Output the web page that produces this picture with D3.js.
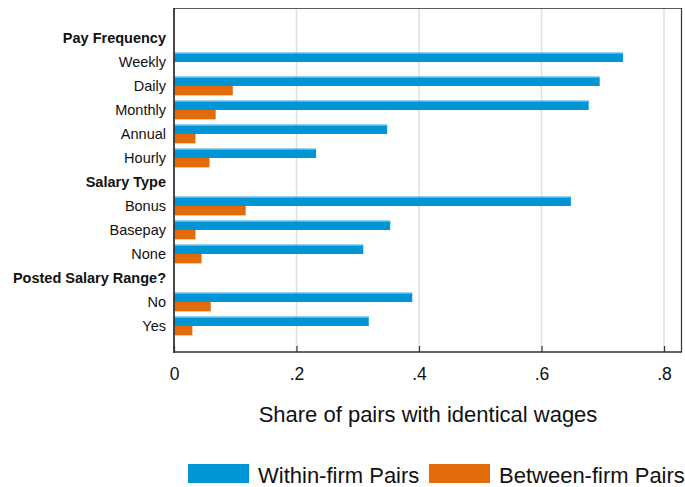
<!DOCTYPE html>
<html>
<head>
<meta charset="utf-8">
<script src="https://cdn.jsdelivr.net/npm/d3@7"></script>
<style>
  body { margin: 0; background: #fff; }
  svg text { font-family: "Liberation Sans", Arial, sans-serif; fill: #111; }
</style>
</head>
<body>
<div id="chart"></div>
<script>
// rows down the y axis, group headers included
const rowLabels = ["Pay Frequency", "Weekly", "Daily", "Monthly", "Annual", "Hourly",
  "Salary Type", "Bonus", "Basepay", "None",
  "Posted Salary Range?", "No", "Yes"]
const headerRows = ["Pay Frequency", "Salary Type", "Posted Salary Range?"]

const categories = ["Weekly", "Daily", "Monthly", "Annual", "Hourly", "Bonus", "Basepay", "None", "No", "Yes"]
const withinFirm = [0.733, 0.695, 0.677, 0.348, 0.232, 0.648, 0.353, 0.309, 0.389, 0.318]
const betweenFirm = [null, 0.096, 0.068, 0.035, 0.058, 0.117, 0.035, 0.045, 0.060, 0.030]

const seriesNames = ["Within-firm Pairs", "Between-firm Pairs"]
const seriesColors = ["#0096d6", "#e36c0a"]

const xTicks = [0, 0.2, 0.4, 0.6, 0.8]
const xTickLabels = ["0", ".2", ".4", ".6", ".8"]
const xTitle = "Share of pairs with identical wages"

const width = 685, height = 487
const plot = { left: 174, right: 682, top: 8, bottom: 352 }

const svg = d3.select("#chart").append("svg")
    .attr("width", width)
    .attr("height", height)

const x = d3.scaleLinear().domain([0, 0.8]).range([plot.left, 664])

const y = d3.scaleBand().domain(rowLabels).range([26, 338])
const ySub = d3.scaleBand().domain(seriesNames).range([2.65, 21.35])

// gridlines
svg.append("g")
    .selectAll("line")
    .data(xTicks.filter(d => d > 0))
    .enter()
    .append("line")
    .attr("x1", d => x(d))
    .attr("x2", d => x(d))
    .attr("y1", plot.top)
    .attr("y2", plot.bottom)
    .attr("stroke", "#dedede")
    .attr("stroke-width", 1.5)

// bars
const rows = categories.map((c, i) => ({ cat: c, values: [withinFirm[i], betweenFirm[i]] }))

const barGroups = svg.append("g")
    .selectAll("g")
    .data(rows)
    .enter()
    .append("g")
    .attr("transform", d => "translate(0," + y(d.cat) + ")")

barGroups.selectAll("rect")
    .data(d => d.values.map((v, i) => ({ v: v, s: seriesNames[i], i: i })).filter(d => d.v != null))
    .enter()
    .append("rect")
    .attr("x", x(0))
    .attr("y", d => ySub(d.s))
    .attr("width", d => x(d.v) - x(0))
    .attr("height", ySub.bandwidth())
    .attr("fill", d => seriesColors[d.i])

// thin light edge along top of the blue bars
barGroups.selectAll("line.edge")
    .data(d => [d.values[0]])
    .enter()
    .append("line")
    .attr("class", "edge")
    .attr("x1", x(0))
    .attr("x2", d => x(d))
    .attr("y1", ySub(seriesNames[0]) + 0.5)
    .attr("y2", ySub(seriesNames[0]) + 0.5)
    .attr("stroke", "#7cc6ea")
    .attr("stroke-width", 1)

// frame
svg.append("line")
    .attr("x1", plot.left).attr("x2", plot.right)
    .attr("y1", plot.top + 0.5).attr("y2", plot.top + 0.5)
    .attr("stroke", "#5a5a5a").attr("stroke-width", 1.2)
svg.append("line")
    .attr("x1", plot.right - 0.5).attr("x2", plot.right - 0.5)
    .attr("y1", plot.top).attr("y2", plot.bottom)
    .attr("stroke", "#333").attr("stroke-width", 1.2)
svg.append("line")
    .attr("x1", plot.left).attr("x2", plot.left)
    .attr("y1", plot.top).attr("y2", plot.bottom + 1)
    .attr("stroke", "#333").attr("stroke-width", 1.8)

// x axis, ticks pointing into the plot
const xAxis = svg.append("g")
    .attr("transform", "translate(0," + plot.bottom + ")")
    .call(d3.axisBottom(x)
        .tickValues(xTicks)
        .tickFormat((d, i) => xTickLabels[i])
        .tickSizeInner(-6)
        .tickSizeOuter(0)
        .tickPadding(15.5))

xAxis.select(".domain").remove()
xAxis.append("line")
    .attr("x1", plot.left).attr("x2", plot.right)
    .attr("stroke", "#333").attr("stroke-width", 1.6)
xAxis.selectAll(".tick line").attr("stroke", "#333").attr("stroke-width", 1.2)
xAxis.selectAll(".tick text")
    .attr("font-size", 17.5)
    .attr("font-family", "Liberation Sans, Arial, sans-serif")
    .attr("fill", "#111")

// y labels
svg.append("g")
    .selectAll("text")
    .data(rowLabels)
    .enter()
    .append("text")
    .attr("x", 166)
    .attr("y", d => y(d) + y.bandwidth() / 2)
    .attr("dy", "0.33em")
    .attr("text-anchor", "end")
    .attr("font-size", 14.5)
    .attr("font-weight", d => headerRows.includes(d) ? "bold" : "normal")
    .text(d => d)

// x title
svg.append("text")
    .attr("x", (plot.left + plot.right) / 2)
    .attr("y", 422)
    .attr("text-anchor", "middle")
    .attr("font-size", 22)
    .text(xTitle)

// legend
const legendX = [188, 429]
const legend = svg.append("g")
    .selectAll("g")
    .data(seriesNames)
    .enter()
    .append("g")
    .attr("transform", (d, i) => "translate(" + legendX[i] + ",464)")

legend.append("rect")
    .attr("width", 61)
    .attr("height", 19)
    .attr("fill", (d, i) => seriesColors[i])

legend.append("text")
    .attr("x", 70)
    .attr("y", 18.5)
    .attr("font-size", 22)
    .text(d => d)
</script>
</body>
</html>
